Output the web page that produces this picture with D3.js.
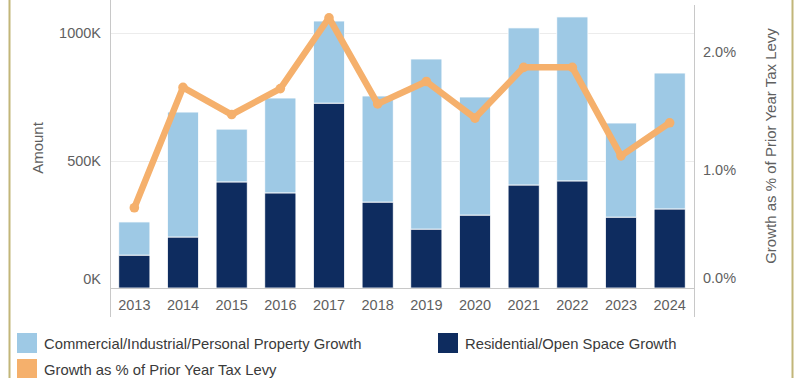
<!DOCTYPE html>
<html>
<head>
<meta charset="utf-8">
<script src="https://cdn.jsdelivr.net/npm/d3@7"></script>
<style>
  html, body { margin: 0; padding: 0; background: #fff; }
  svg { display: block; font-family: "Liberation Sans", Arial, sans-serif; }
</style>
</head>
<body>
<svg id="chart" width="800" height="378"></svg>
<script>
// Years on the category axis
const years = ["2013","2014","2015","2016","2017","2018","2019","2020","2021","2022","2023","2024"];
// Growth amounts in thousands of dollars
const residential = [129, 200, 416, 373, 725, 337, 231, 286, 404, 420, 278, 310];
const commercial  = [130, 490, 207, 372, 322, 416, 667, 463, 616, 643, 369, 533];
// Growth as percent of prior year tax levy
const growthPct   = [0.68, 1.70, 1.47, 1.69, 2.29, 1.56, 1.75, 1.44, 1.87, 1.87, 1.12, 1.40];
// Axis ticks
const amountTicks = [0, 500, 1000];
const pctTicks = [0, 1, 2];

const colors = { commercial: "#9ec9e5", residential: "#0e2c5f", growth: "#f5b06c" };
const textColor = "#5f5f5f";

const svg = d3.select("#chart");
const W = 800, H = 378;

// frame
svg.append("rect").attr("x", 0).attr("y", 0).attr("width", W).attr("height", H).attr("fill", "#fff");
svg.append("line").attr("x1", 9.5).attr("x2", 9.5).attr("y1", 0).attr("y2", H).attr("stroke", "#c2b679").attr("stroke-width", 2);
svg.append("line").attr("x1", 792.5).attr("x2", 792.5).attr("y1", 0).attr("y2", H).attr("stroke", "#c2b679").attr("stroke-width", 2);

const left = 110, right = 694, base = 288;

const x = d3.scaleBand().domain(years).range([left, right]).paddingInner(0.36).paddingOuter(0.18);
const y = d3.scaleLinear().domain([0, 1000]).range([base, 33]);
const y2 = d3.scaleLinear().domain([0, 2]).range([base, 52]);

// gridlines
svg.append("g").selectAll("line").data(amountTicks.filter(d => d > 0)).join("line")
  .attr("x1", left).attr("x2", right)
  .attr("y1", d => Math.round(y(d)) + 0.5).attr("y2", d => Math.round(y(d)) + 0.5)
  .attr("stroke", "#ececec").attr("stroke-width", 1);

// stacked bars
const rows = years.map((yr, i) => ({ year: yr, residential: residential[i], commercial: commercial[i] }));
const stack = d3.stack().keys(["residential", "commercial"])(rows);
svg.append("g").selectAll("g").data(stack).join("g")
  .attr("fill", d => colors[d.key])
  .selectAll("rect").data(d => d).join("rect")
  .attr("x", d => x(d.data.year))
  .attr("width", x.bandwidth())
  .attr("y", d => y(d[1]))
  .attr("height", d => y(d[0]) - y(d[1]))
  .attr("stroke", "#fff").attr("stroke-width", 0.8);

// axis lines
svg.append("line").attr("x1", left + 0.5).attr("x2", left + 0.5).attr("y1", 0).attr("y2", 317).attr("stroke", "#c8c8c8");
svg.append("line").attr("x1", right + 0.5).attr("x2", right + 0.5).attr("y1", 5).attr("y2", 317).attr("stroke", "#c8c8c8");
svg.append("line").attr("x1", left).attr("x2", right).attr("y1", base + 0.5).attr("y2", base + 0.5).attr("stroke", "#c8c8c8");

// left axis labels
const yAxis = d3.axisLeft(y).tickValues(amountTicks).tickFormat(d => d + "K").tickSize(0).tickPadding(9);
const gy = svg.append("g").attr("transform", `translate(${left},0)`).call(yAxis);
gy.select(".domain").remove();
gy.selectAll("text").attr("fill", textColor).style("font-size", "14.5px")
  .attr("dy", d => d === 0 ? "-0.3em" : "0.32em");

// right axis labels
const yAxis2 = d3.axisRight(y2).tickValues(pctTicks).tickFormat(d => d.toFixed(1) + "%").tickSize(0).tickPadding(9);
const gy2 = svg.append("g").attr("transform", `translate(${right},0)`).call(yAxis2);
gy2.select(".domain").remove();
gy2.selectAll("text").attr("fill", textColor).style("font-size", "14.5px")
  .attr("dy", d => d === 0 ? "-0.35em" : "0.32em");

// category labels
const xAxis = d3.axisBottom(x).tickSize(0).tickPadding(12);
const gx = svg.append("g").attr("transform", `translate(0,${base})`).call(xAxis);
gx.select(".domain").remove();
gx.selectAll("text").attr("fill", textColor).style("font-size", "14.5px");

// axis titles
svg.append("text").attr("transform", "translate(43,148) rotate(-90)")
  .attr("text-anchor", "middle").attr("fill", textColor).style("font-size", "15px").text("Amount");
svg.append("text").attr("transform", "translate(776,146) rotate(-90)")
  .attr("text-anchor", "middle").attr("fill", textColor).style("font-size", "15px")
  .text("Growth as % of Prior Year Tax Levy");

// growth line
const line = d3.line().x((d, i) => x(years[i]) + x.bandwidth() / 2).y(d => y2(d));
svg.append("path").datum(growthPct).attr("d", line)
  .attr("fill", "none").attr("stroke", colors.growth).attr("stroke-width", 6.5)
  .attr("stroke-linejoin", "round").attr("stroke-linecap", "round");
svg.append("g").selectAll("circle").data(growthPct).join("circle")
  .attr("cx", (d, i) => x(years[i]) + x.bandwidth() / 2).attr("cy", d => y2(d))
  .attr("r", 4.8).attr("fill", colors.growth);

// legend
const legend = [
  { label: "Commercial/Industrial/Personal Property Growth", color: colors.commercial, x: 17, y: 333 },
  { label: "Residential/Open Space Growth", color: colors.residential, x: 438, y: 333 },
  { label: "Growth as % of Prior Year Tax Levy", color: colors.growth, x: 17, y: 359 }
];
const lg = svg.append("g").selectAll("g").data(legend).join("g")
  .attr("transform", d => `translate(${d.x},${d.y})`);
lg.append("rect").attr("width", 20).attr("height", 20).attr("fill", d => d.color);
lg.append("text").attr("x", 27).attr("y", 11).attr("dy", "0.35em")
  .attr("fill", "#3a3a3a").style("font-size", "14.8px").text(d => d.label);
</script>
</body>
</html>
